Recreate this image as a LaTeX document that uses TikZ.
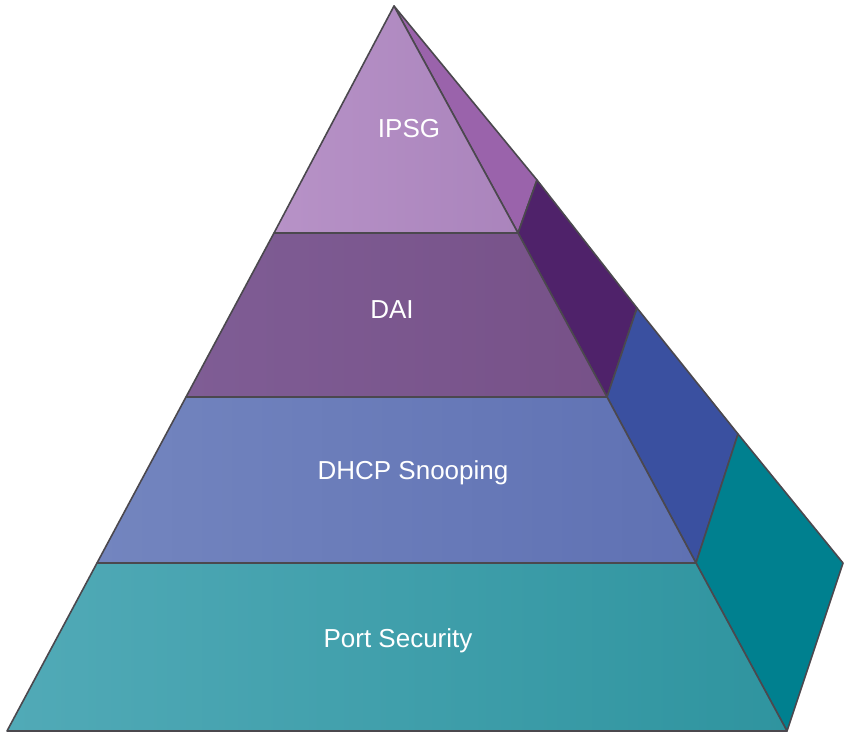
\documentclass[tikz,border=0pt]{standalone}
\usepackage{fontspec}
\setmainfont{Liberation Sans}
\usepackage{tikz}
\definecolor{edge}{HTML}{4B484E}
\definecolor{ipsgL}{HTML}{B792C7}
\definecolor{ipsgR}{HTML}{AA84BC}
\definecolor{ipsgS}{HTML}{9A63AB}
\definecolor{daiL}{HTML}{7F5D95}
\definecolor{daiR}{HTML}{775188}
\definecolor{daiS}{HTML}{4F226A}
\definecolor{dhcpL}{HTML}{7385BF}
\definecolor{dhcpR}{HTML}{5F71B3}
\definecolor{dhcpS}{HTML}{3A50A0}
\definecolor{portL}{HTML}{51AAB7}
\definecolor{portR}{HTML}{2F949F}
\definecolor{portS}{HTML}{00808F}
\tikzset{face/.style={draw=edge,line width=1.6pt,line join=round},
  tier/.style={text=white,font=\fontsize{26}{30}\selectfont}}
\newcommand{\front}[2]{[face,left color=#1,right color=#2]}

\begin{document}
\begin{tikzpicture}[x=1pt,y=-1pt]
       \useasboundingbox (0,0) rectangle (849,739);
       % corners of the front face and the side face
       \coordinate (top) at (394,6);
       \coordinate (l1) at (274,233); \coordinate (r1) at (518,233);
       \coordinate (l2) at (186,397); \coordinate (r2) at (607,397);
       \coordinate (l3) at (97,563);  \coordinate (r3) at (696,563);
       \coordinate (l4) at (7,731);   \coordinate (r4) at (787,731);
       \coordinate (s1) at (537,180); \coordinate (s2) at (637,308);
       \coordinate (s3) at (738,434); \coordinate (s4) at (843,563);
       % side face
       \filldraw[face,fill=ipsgS] (top) -- (s1) -- (r1) -- cycle;
       \filldraw[face,fill=daiS] (r1) -- (s1) -- (s2) -- (r2) -- cycle;
       \filldraw[face,fill=dhcpS] (r2) -- (s2) -- (s3) -- (r3) -- cycle;
       \filldraw[face,fill=portS] (r3) -- (s3) -- (s4) -- (r4) -- cycle;
       % front face
       \shadedraw\front{ipsgL}{ipsgR} (top) -- (r1) -- (l1) -- cycle;
       \shadedraw\front{daiL}{daiR} (l1) -- (r1) -- (r2) -- (l2) -- cycle;
       \shadedraw\front{dhcpL}{dhcpR} (l2) -- (r2) -- (r3) -- (l3) -- cycle;
       \shadedraw\front{portL}{portR} (l3) -- (r3) -- (r4) -- (l4) -- cycle;
       \node[tier] (ipsg) at (409,129) {IPSG};
       \node[tier] (dai) at (392,310) {DAI};
       \node[tier] (dhcp) at (413,473) {DHCP Snooping};
       \node[tier] (port) at (398,641) {Port Security};
       \end{tikzpicture}
\end{document}
